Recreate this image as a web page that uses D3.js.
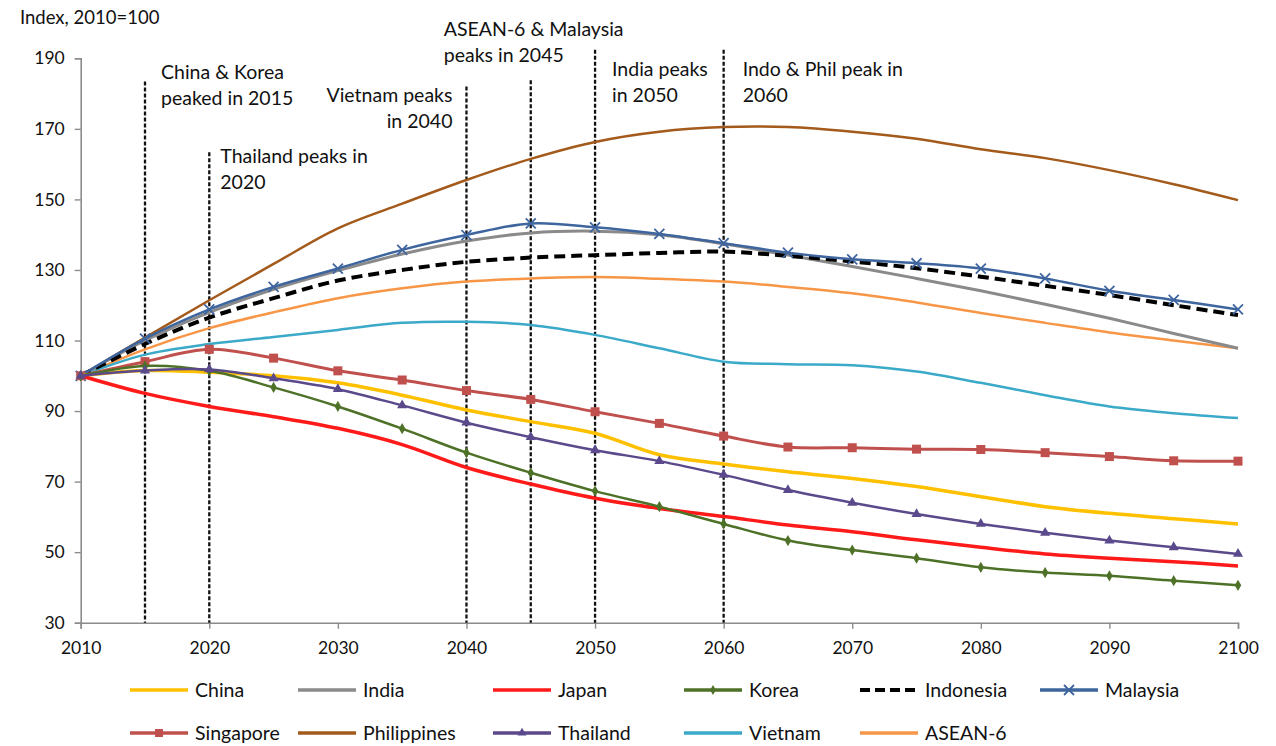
<!DOCTYPE html>
<html>
<head>
<meta charset="utf-8">
<script src="https://cdn.jsdelivr.net/npm/d3@7"></script>
<style>
  html, body { margin: 0; padding: 0; background: #fff; }
  svg { display: block; font-family: Lato, "Liberation Sans", sans-serif; }
</style>
</head>
<body>
<svg id="chart" width="1276" height="746"></svg>
<script>
// Population index by country, 2010 = 100, five-year steps
const years = [2010, 2015, 2020, 2025, 2030, 2035, 2040, 2045, 2050, 2055, 2060,
               2065, 2070, 2075, 2080, 2085, 2090, 2095, 2100];

const china       = [100, 101.5, 101, 100, 98, 94.5, 90.3, 87, 83.7, 77.6, 75, 72.8, 70.9, 68.6, 65.7, 62.9, 61, 59.5, 58];
const india       = [100, 110, 118, 124.5, 129.8, 134.5, 138.2, 140.5, 141, 140, 137.4, 134.2, 131, 127.6, 124.1, 120.3, 116.3, 112, 107.8];
const japan       = [100, 95, 91.3, 88.4, 85.1, 80.5, 74, 69.3, 65.3, 62.4, 60.1, 57.7, 55.8, 53.5, 51.4, 49.5, 48.3, 47.3, 46.1];
const korea       = [100, 102.8, 101.4, 96.7, 91.3, 85, 78.2, 72.5, 67.3, 62.9, 58, 53.3, 50.6, 48.3, 45.7, 44.2, 43.3, 41.9, 40.6];
const indonesia   = [100, 109, 116.5, 122, 127, 130, 132.3, 133.5, 134.2, 134.8, 135.2, 134, 132.4, 130.5, 128.1, 125.5, 122.9, 120, 117.2];
const malaysia    = [100, 110.5, 118.8, 125.2, 130.4, 135.7, 139.9, 143.2, 142.1, 140.2, 137.6, 134.9, 133, 131.9, 130.4, 127.6, 124.1, 121.5, 118.8];
const singapore   = [100, 104, 107.5, 105, 101.4, 98.8, 95.8, 93.3, 89.8, 86.5, 82.9, 79.8, 79.6, 79.2, 79.1, 78.2, 77.1, 75.9, 75.8];
const philippines = [100, 110.8, 121.4, 131.7, 141.8, 148.8, 155.5, 161.5, 166.3, 169.2, 170.5, 170.5, 169.2, 167.2, 164.2, 161.7, 158.3, 154.3, 149.8];
const thailand    = [100, 101.5, 101.8, 99.3, 96.2, 91.6, 86.7, 82.6, 78.9, 75.8, 71.9, 67.6, 64, 60.8, 58, 55.5, 53.3, 51.4, 49.5];
const vietnam     = [100, 106, 109, 111, 113, 115, 115.3, 114.4, 111.6, 107.8, 104, 103.3, 103, 101.2, 98, 94.5, 91.3, 89.4, 88];
const asean6      = [100, 107.5, 113.5, 118, 122, 124.8, 126.7, 127.6, 128, 127.5, 126.7, 125.2, 123.4, 120.8, 117.8, 115, 112.3, 110, 107.8];

const seriesNames = ["China", "India", "Japan", "Korea", "Indonesia", "Malaysia",
                     "Singapore", "Philippines", "Thailand", "Vietnam", "ASEAN-6"];
const seriesValues = [china, india, japan, korea, indonesia, malaysia,
                      singapore, philippines, thailand, vietnam, asean6];

const yTicks = [30, 50, 70, 90, 110, 130, 150, 170, 190];
const xTicks = [2010, 2020, 2030, 2040, 2050, 2060, 2070, 2080, 2090, 2100];

// Peak-year markers and their notes
const peakYears = [2015, 2020, 2040, 2045, 2050, 2060];
const peakLineTop = [183.4, 163.4, 182, 183.8, 192.4, 192.4];
const peakNotes = [
  ["China & Korea", "peaked in 2015"],
  ["Thailand peaks in", "2020"],
  ["Vietnam peaks", "in 2040"],
  ["ASEAN-6 & Malaysia", "peaks in 2045"],
  ["India peaks", "in 2050"],
  ["Indo & Phil peak in", "2060"]
];

// Styling per series
const style = {
  "China":       { color: "#FFC000", width: 3.5 },
  "India":       { color: "#8A8A8A", width: 3 },
  "Japan":       { color: "#FF1A1A", width: 3.5 },
  "Korea":       { color: "#4E7128", width: 2.5, marker: "diamond" },
  "Indonesia":   { color: "#000000", width: 4, dash: "11,6" },
  "Malaysia":    { color: "#3E659E", width: 2.5, marker: "x" },
  "Singapore":   { color: "#C0504D", width: 3, marker: "square" },
  "Philippines": { color: "#A35A1B", width: 2.5 },
  "Thailand":    { color: "#5B4A8B", width: 2.5, marker: "triangle" },
  "Vietnam":     { color: "#3BA9C8", width: 2.5 },
  "ASEAN-6":     { color: "#F79646", width: 2.5 }
};

const svg = d3.select("#chart");
const x = d3.scaleLinear().domain([2010, 2100]).range([80.7, 1238]);
const y = d3.scaleLinear().domain([30, 190]).range([622.7, 58.3]);
const ink = "#111";

// Axes
const axisColor = "#8C8C8C";
const gy = svg.append("g").attr("transform", `translate(${x(2010)},0)`)
  .call(d3.axisLeft(y).tickValues(yTicks).tickSize(6).tickPadding(10));
const gx = svg.append("g").attr("transform", `translate(0,${y(30)})`)
  .call(d3.axisBottom(x).tickValues(xTicks).tickFormat(d3.format("d")).tickSize(6).tickPadding(13));
[gx, gy].forEach(g => {
  g.select(".domain").attr("stroke", axisColor).attr("stroke-width", 1.6);
  g.selectAll(".tick line").attr("stroke", axisColor).attr("stroke-width", 1.4);
  g.selectAll(".tick text").attr("fill", ink).attr("font-size", 17.5)
    .attr("font-family", "Lato, sans-serif");
});

svg.append("text").attr("x", 20).attr("y", 24)
  .attr("font-size", 18.5).attr("fill", ink).text("Index, 2010=100");

// Peak-year guide lines
svg.append("g").selectAll("line").data(peakYears).join("line")
  .attr("x1", d => x(d)).attr("x2", d => x(d))
  .attr("y1", (d, i) => y(peakLineTop[i])).attr("y2", y(30))
  .attr("stroke", "#111").attr("stroke-width", 2.3).attr("stroke-dasharray", "4,2");

// Notes beside the guide lines: [dx from line, first baseline, anchor]
const notePlacement = [
  [16, 79, "start"],
  [11, 163, "start"],
  [-14, 102, "end"],
  [-87, 36, "start"],
  [17, 76, "start"],
  [19, 76, "start"]
];
const notes = svg.append("g").attr("font-size", 19.5).attr("fill", ink);
peakNotes.forEach((lines, i) => {
  const [dx, by, anchor] = notePlacement[i];
  const t = notes.append("text").attr("text-anchor", anchor);
  lines.forEach((s, j) => {
    t.append("tspan").attr("x", x(peakYears[i]) + dx).attr("y", by + j * 25.5).text(s);
  });
});

// Series lines
const line = d3.line().x((d, i) => x(years[i])).y(d => y(d)).curve(d3.curveCatmullRom.alpha(0.5));
const drawOrder = ["Philippines", "ASEAN-6", "Vietnam", "India", "Indonesia", "Malaysia",
                   "Singapore", "China", "Japan", "Korea", "Thailand"];
const plot = svg.append("g");

function marker(g, kind, color, cx, cy, s) {
  if (kind === "square") {
    g.append("rect").attr("x", cx - s / 2).attr("y", cy - s / 2).attr("width", s).attr("height", s)
      .attr("fill", color);
  } else if (kind === "triangle") {
    g.append("path").attr("d", d3.symbol(d3.symbolTriangle, s * s * 0.55)())
      .attr("transform", `translate(${cx},${cy})`).attr("fill", color);
  } else if (kind === "diamond") {
    g.append("path").attr("d", d3.symbol(d3.symbolDiamond, s * s * 0.45)())
      .attr("transform", `translate(${cx},${cy})`).attr("fill", color);
  } else if (kind === "x") {
    const h = s / 2;
    g.append("path").attr("d", `M${cx - h},${cy - h}L${cx + h},${cy + h}M${cx - h},${cy + h}L${cx + h},${cy - h}`)
      .attr("stroke", color).attr("stroke-width", 1.8).attr("fill", "none");
  }
}

drawOrder.forEach(name => {
  const vals = seriesValues[seriesNames.indexOf(name)];
  const st = style[name];
  plot.append("path").datum(vals).attr("d", line)
    .attr("fill", "none").attr("stroke", st.color).attr("stroke-width", st.width)
    .attr("stroke-dasharray", st.dash || null).attr("stroke-linejoin", "round");
  if (st.marker) {
    const mg = plot.append("g");
    vals.forEach((v, i) => marker(mg, st.marker, st.color, x(years[i]), y(v), st.marker === "x" ? 10 : 9));
  }
});

// Legend
const legendCols = [130, 298, 493, 684, 860, 1040];
const legendRows = [690, 733];
const leg = svg.append("g").attr("font-size", 19.5).attr("fill", ink);
seriesNames.forEach((name, i) => {
  const st = style[name];
  const lx = legendCols[i % 6], ly = legendRows[Math.floor(i / 6)];
  const g = leg.append("g");
  g.append("line").attr("x1", lx).attr("x2", lx + 58).attr("y1", ly).attr("y2", ly)
    .attr("stroke", st.color).attr("stroke-width", st.dash ? 4 : 3.5)
    .attr("stroke-dasharray", st.dash ? "10,5" : null);
  if (st.marker) marker(g, st.marker, st.color, lx + 29, ly, st.marker === "x" ? 10 : 8);
  g.append("text").attr("x", lx + 65).attr("y", ly + 7).text(name);
});
</script>
</body>
</html>
